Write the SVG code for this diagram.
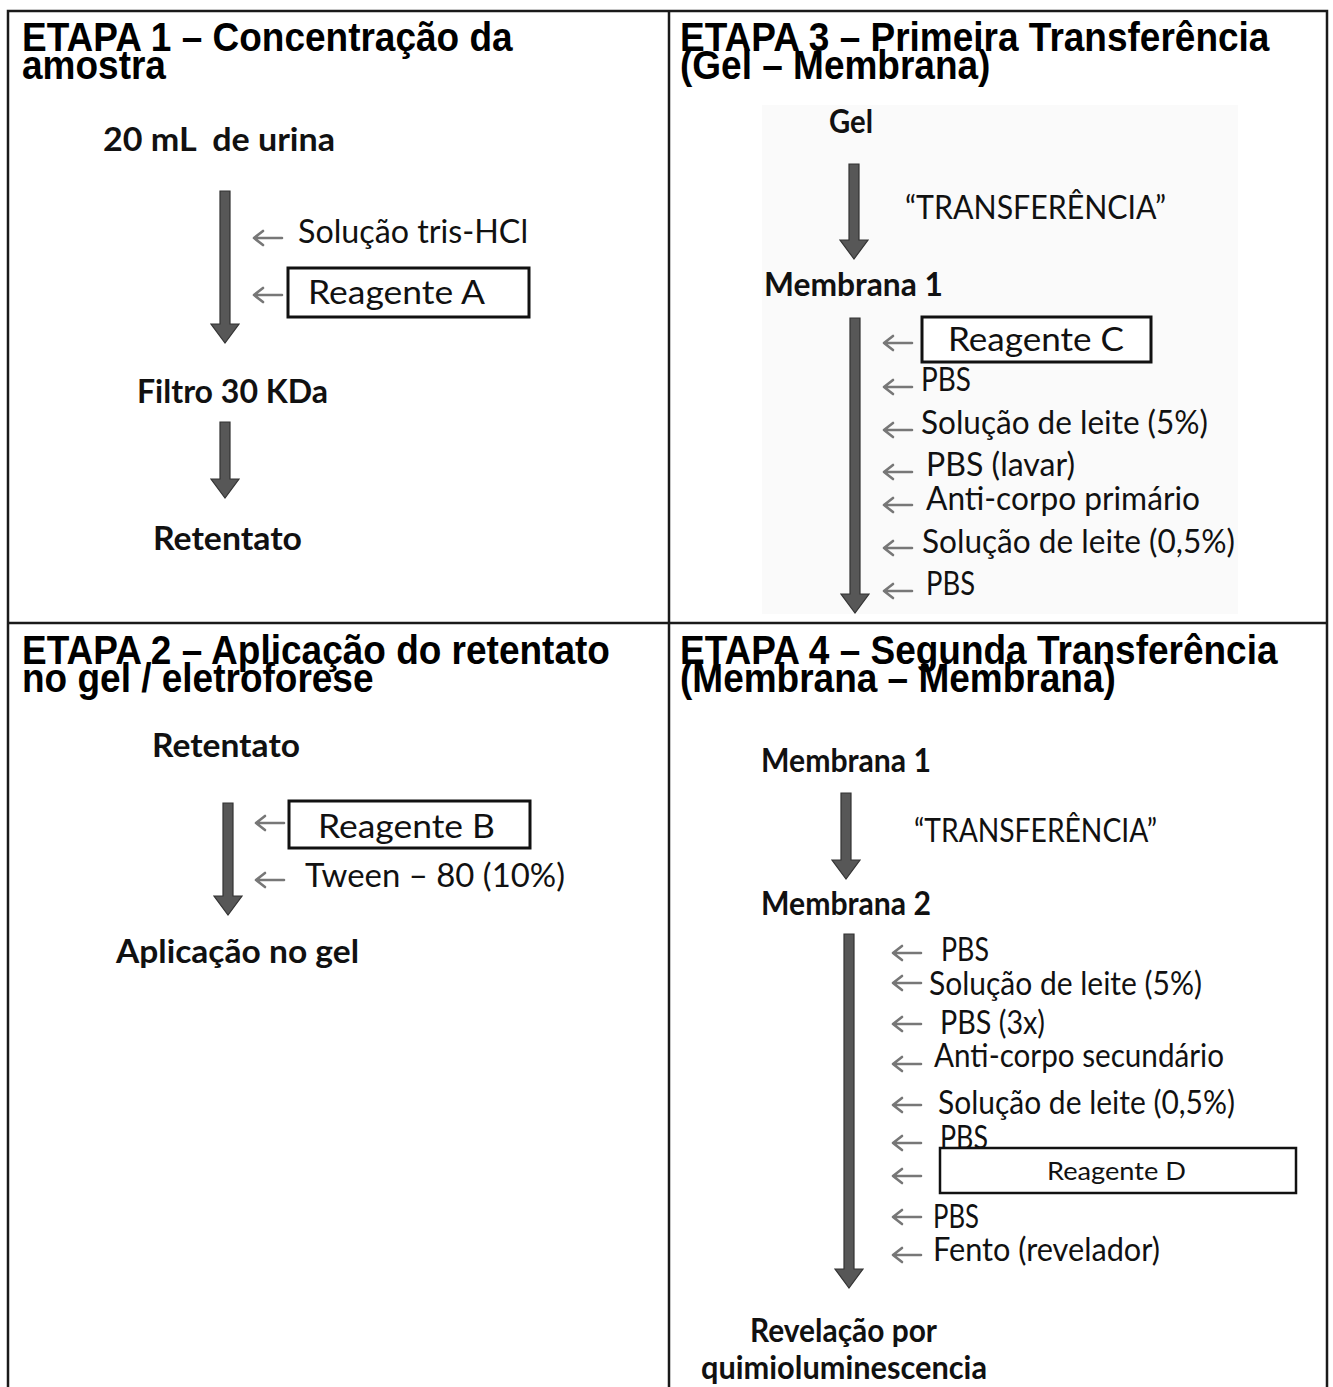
<svg xmlns="http://www.w3.org/2000/svg" xmlns:xlink="http://www.w3.org/1999/xlink" width="1333" height="1387" viewBox="0 0 1333 1387">
<style>
.title{font-family:"Liberation Sans",Arial,sans-serif;font-weight:bold;font-size:37px;fill:#000}
.lb{font-family:Lato,"Open Sans",sans-serif;font-weight:bold;font-size:32px;fill:#111}
.lr{font-family:Lato,"Open Sans",sans-serif;font-weight:normal;font-size:32px;fill:#111}
.box{fill:#fff;stroke:#111;stroke-width:3}
.big{fill:#575757;stroke:#333;stroke-width:1.2}
.sm{fill:none;stroke:#777;stroke-width:2.6;stroke-linecap:round}
.grid{stroke:#1a1a1a;stroke-width:2.5;fill:none}
</style>
<defs>
<path id="sa" d="M0,0 H28 M0,0 L9,-7 M0,0 L9,7"/>
</defs>
<rect width="1333" height="1387" fill="#fff"/>
<rect x="762" y="105" width="476" height="509" fill="#fafafa"/>
<g id="grid" class="grid">
<path d="M8,1387 V11 H1327 V1387"/>
<path d="M669,11 V1387"/>
<path d="M8,623 H1327"/>
</g>
<g id="titles">
<g id="title1"><text class="title" transform="translate(22,51) scale(1,1.08)">ETAPA 1 – Concentração da</text><text class="title" transform="translate(22,79) scale(1,1.08)">amostra</text></g>
<g id="title3"><text class="title" transform="translate(680,51) scale(1,1.08)">ETAPA 3 – Primeira Transferência</text><text class="title" transform="translate(680,79) scale(1,1.08)">(Gel – Membrana)</text></g>
<g id="title2"><text class="title" transform="translate(22,664) scale(1,1.08)">ETAPA 2 – Aplicação do retentato</text><text class="title" transform="translate(22,692) scale(1,1.08)">no gel / eletroforese</text></g>
<g id="title4"><text class="title" transform="translate(680,664) scale(1,1.08)">ETAPA 4 – Segunda Transferência</text><text class="title" transform="translate(680,692) scale(1,1.08)">(Membrana – Membrana)</text></g>
</g>
<g id="connectors">
<path class="big" d="M220,191 H230 V324 H239 L225,343 L211,324 H220 Z"/>
<path class="big" d="M220,422 H230 V479 H239 L225,498 L211,479 H220 Z"/>
<path class="big" d="M849,164 H859 V240 H868 L854,259 L840,240 H849 Z"/>
<path class="big" d="M850,318 H860 V594 H869 L855,613 L841,594 H850 Z"/>
<path class="big" d="M223,803 H233 V896 H242 L228,915 L214,896 H223 Z"/>
<path class="big" d="M841,793 H851 V860 H860 L846,879 L832,860 H841 Z"/>
<path class="big" d="M844,934 H854 V1269 H863 L849,1288 L835,1269 H844 Z"/>
<g class="sm">
<use xlink:href="#sa" x="254" y="238"/>
<use xlink:href="#sa" x="254" y="295"/>
<use xlink:href="#sa" x="884" y="343"/>
<use xlink:href="#sa" x="884" y="387"/>
<use xlink:href="#sa" x="884" y="430"/>
<use xlink:href="#sa" x="884" y="472"/>
<use xlink:href="#sa" x="884" y="505"/>
<use xlink:href="#sa" x="884" y="548"/>
<use xlink:href="#sa" x="884" y="591"/>
<use xlink:href="#sa" x="256" y="823"/>
<use xlink:href="#sa" x="256" y="880"/>
<use xlink:href="#sa" x="893" y="953"/>
<use xlink:href="#sa" x="893" y="983"/>
<use xlink:href="#sa" x="893" y="1024"/>
<use xlink:href="#sa" x="893" y="1064"/>
<use xlink:href="#sa" x="893" y="1105"/>
<use xlink:href="#sa" x="893" y="1143"/>
<use xlink:href="#sa" x="893" y="1176"/>
<use xlink:href="#sa" x="893" y="1217"/>
<use xlink:href="#sa" x="893" y="1255"/>
</g>
</g>
<g id="etapa1">
<g id="n-urina"><text class="lb" x="103" y="151" textLength="232" lengthAdjust="spacingAndGlyphs" xml:space="preserve">20 mL  de urina</text></g>
<g id="n-tris"><text class="lr" x="298" y="243" textLength="230" lengthAdjust="spacingAndGlyphs">Solução tris-HCl</text></g>
<g id="n-reagA"><rect class="box" x="288" y="268" width="241" height="49"/><text class="lr" x="308" y="304" textLength="177" lengthAdjust="spacingAndGlyphs">Reagente A</text></g>
<g id="n-filtro"><text class="lb" x="137" y="403" textLength="191" lengthAdjust="spacingAndGlyphs">Filtro 30 KDa</text></g>
<g id="n-ret1"><text class="lb" x="153" y="550" textLength="149" lengthAdjust="spacingAndGlyphs">Retentato</text></g>
</g>
<g id="etapa3">
<g id="n-gel"><text class="lb" x="829" y="133" textLength="44" lengthAdjust="spacingAndGlyphs">Gel</text></g>
<g id="n-transf1"><text class="lr" x="905" y="219" textLength="261" lengthAdjust="spacingAndGlyphs">“TRANSFERÊNCIA”</text></g>
<g id="n-memb1a"><text class="lb" x="764" y="296" textLength="179" lengthAdjust="spacingAndGlyphs">Membrana 1</text></g>
<g id="n-reagC"><rect class="box" x="922" y="317" width="229" height="45"/><text class="lr" x="948" y="351" textLength="176" lengthAdjust="spacingAndGlyphs">Reagente C</text></g>
<g id="n-pbs3a"><text class="lr" x="921" y="391" textLength="50" lengthAdjust="spacingAndGlyphs">PBS</text></g>
<g id="n-leite3a"><text class="lr" x="921" y="434" textLength="287" lengthAdjust="spacingAndGlyphs">Solução de leite (5%)</text></g>
<g id="n-pbs3b"><text class="lr" x="926" y="476" textLength="149" lengthAdjust="spacingAndGlyphs">PBS (lavar)</text></g>
<g id="n-anti1"><text class="lr" x="926" y="510" textLength="274" lengthAdjust="spacingAndGlyphs">Anti-corpo primário</text></g>
<g id="n-leite3b"><text class="lr" x="922" y="553" textLength="313" lengthAdjust="spacingAndGlyphs">Solução de leite (0,5%)</text></g>
<g id="n-pbs3c"><text class="lr" x="926" y="595" textLength="49" lengthAdjust="spacingAndGlyphs">PBS</text></g>
</g>
<g id="etapa2">
<g id="n-ret2"><text class="lb" x="152" y="757" textLength="148" lengthAdjust="spacingAndGlyphs">Retentato</text></g>
<g id="n-reagB"><rect class="box" x="289" y="801" width="241" height="47"/><text class="lr" x="318" y="838" textLength="177" lengthAdjust="spacingAndGlyphs">Reagente B</text></g>
<g id="n-tween"><text class="lr" x="305" y="887" textLength="260" lengthAdjust="spacingAndGlyphs">Tween – 80 (10%)</text></g>
<g id="n-aplic"><text class="lb" x="116" y="963" textLength="243" lengthAdjust="spacingAndGlyphs">Aplicação no gel</text></g>
</g>
<g id="etapa4">
<g id="n-memb1b"><text class="lb" x="761" y="772" textLength="170" lengthAdjust="spacingAndGlyphs">Membrana 1</text></g>
<g id="n-transf2"><text class="lr" x="914" y="842" textLength="243" lengthAdjust="spacingAndGlyphs">“TRANSFERÊNCIA”</text></g>
<g id="n-memb2"><text class="lb" x="761" y="915" textLength="170" lengthAdjust="spacingAndGlyphs">Membrana 2</text></g>
<g id="n-pbs4a"><text class="lr" x="941" y="961" textLength="48" lengthAdjust="spacingAndGlyphs">PBS</text></g>
<g id="n-leite4a"><text class="lr" x="929" y="995" textLength="273" lengthAdjust="spacingAndGlyphs">Solução de leite (5%)</text></g>
<g id="n-pbs4b"><text class="lr" x="940" y="1034" textLength="105" lengthAdjust="spacingAndGlyphs">PBS (3x)</text></g>
<g id="n-anti2"><text class="lr" x="934" y="1067" textLength="290" lengthAdjust="spacingAndGlyphs">Anti-corpo secundário</text></g>
<g id="n-leite4b"><text class="lr" x="938" y="1114" textLength="297" lengthAdjust="spacingAndGlyphs">Solução de leite (0,5%)</text></g>
<g id="n-pbs4c"><text class="lr" x="940" y="1149" textLength="48" lengthAdjust="spacingAndGlyphs">PBS</text></g>
<g id="n-reagD"><rect class="box" x="940" y="1148" width="356" height="45" style="stroke-width:2.5"/><text class="lr" x="1047" y="1180" style="font-size:25px" textLength="139" lengthAdjust="spacingAndGlyphs">Reagente D</text></g>
<g id="n-pbs4d"><text class="lr" x="933" y="1228" textLength="46" lengthAdjust="spacingAndGlyphs">PBS</text></g>
<g id="n-fento"><text class="lr" x="933" y="1261" textLength="227" lengthAdjust="spacingAndGlyphs">Fento (revelador)</text></g>
<g id="n-revel"><text class="lb" x="750" y="1342" textLength="187" lengthAdjust="spacingAndGlyphs">Revelação por</text><text class="lb" x="701" y="1379" textLength="286" lengthAdjust="spacingAndGlyphs">quimioluminescencia</text></g>
</g>
</svg>
